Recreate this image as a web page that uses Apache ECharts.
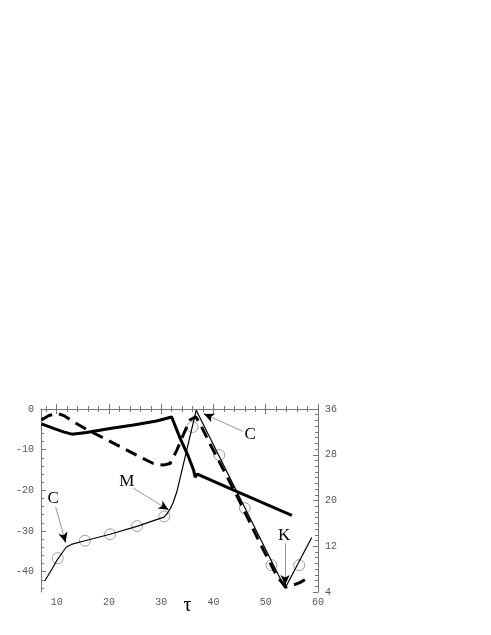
<!DOCTYPE html>
<html>
<head>
<meta charset="utf-8">
<script src="https://cdn.jsdelivr.net/npm/echarts@6/dist/echarts.min.js"></script>
<style>
  html, body { margin: 0; padding: 0; background: #fff; }
  #chart { width: 491px; height: 635px; }
</style>
</head>
<body>
<div id="chart"></div>
<script>
// tick labels
const xTicks = [10, 20, 30, 40, 50, 60]
const leftTicks = [-40, -30, -20, -10, 0]
const rightTicks = [4, 12, 20, 28, 36]

// thin curve (left axis)
const thinX = [7.7, 9.0, 10.2, 11.2, 11.8, 12.8, 15.4, 20.2, 25.5, 30.5, 31.1, 31.7, 32.3, 33.0, 36.7, 53.7, 58.8]
const thinY = [-42.3, -39.6, -36.9, -35.1, -34.0, -33.3, -32.4, -30.8, -28.8, -26.6, -25.8, -24.6, -23.0, -20.3, -0.3, -44.1, -31.6]

// open circles (left axis)
const circX = [10.2, 15.4, 20.2, 25.4, 30.6, 36.0, 41.1, 46.0, 51.1, 56.4]
const circY = [-36.7, -32.4, -30.8, -28.8, -26.4, -4.4, -11.3, -24.4, -38.4, -38.4]

// thick solid curve (right axis)
const thickX = [7.1, 9.4, 11.3, 12.9, 15.7, 20.2, 24.7, 29.1, 32.0, 33.6, 35.2, 36.2, 36.5, 36.9, 44.4, 55.0]
const thickY = [33.4, 32.6, 32.0, 31.6, 31.9, 32.6, 33.2, 33.9, 34.6, 30.9, 27.7, 25.3, 24.1, 24.6, 21.6, 17.4]

// thick dashed curve (right axis)
const dashX = [7.1, 8.5, 10.2, 11.5, 13.0, 16.0, 19.2, 25.5, 28.5, 30.4, 31.7, 33.0, 34.2, 35.5, 36.6, 37.5, 39.3, 44.4, 48.9, 52.1, 53.8, 55.0, 56.5, 58.2]
const dashY = [34.08, 34.86, 35.22, 34.79, 33.87, 32.3, 30.81, 27.82, 26.47, 26.19, 26.47, 28.82, 31.45, 34.08, 34.65, 33.3, 29.96, 21.0, 12.53, 6.84, 4.85, 5.07, 5.64, 6.49]

// annotations: label position and arrow [from, to] (left axis coords)
const notes = [
  { name: 'C', at: [9.35, -21.9], from: [9.8, -24.0], to: [11.7, -32.8] },
  { name: 'M', at: [23.4, -17.9], from: [24.7, -19.5], to: [31.4, -24.8] },
  { name: 'C', at: [47.0, -6.4], from: [45.6, -5.5], to: [38.2, -1.2] },
  { name: 'K', at: [53.5, -31.0], from: [53.7, -33.0], to: [53.7, -43.3] }
]

function minors (lo, hi, step, majors) {
  const out = []
  for (let v = lo; v <= hi + 1e-9; v += step) {
    const r = Math.round(v * 100) / 100
    if (majors.indexOf(r) < 0) out.push(r)
  }
  return out
}
const xMinor = minors(8, 58, 2, xTicks)
const leftMinor = minors(-44, -2, 2, leftTicks)
const rightMinor = minors(5, 35, 1, rightTicks)

const pairs = (xs, ys) => xs.map((x, i) => [x, ys[i]])

const frameColor = '#777'
const labelStyle = { color: '#555', fontFamily: 'Liberation Mono', fontSize: 10 }

function xAx (pos, ticks, len, withLine, withLabel) {
  return {
    type: 'value', position: pos, min: 7, max: 60,
    splitLine: { show: false },
    axisLine: { show: withLine, lineStyle: { color: frameColor, width: 1 } },
    axisTick: { show: true, inside: true, length: len, customValues: ticks, lineStyle: { color: frameColor } },
    axisLabel: withLabel
      ? Object.assign({ show: true, margin: 5, customValues: ticks }, labelStyle)
      : { show: false }
  }
}
function yAx (pos, min, max, ticks, len, withLine, withLabel) {
  return {
    type: 'value', position: pos, min: min, max: max,
    splitLine: { show: false },
    axisLine: { show: withLine, onZero: false, lineStyle: { color: frameColor, width: 1 } },
    axisTick: { show: true, inside: true, length: len, customValues: ticks, lineStyle: { color: frameColor } },
    axisLabel: withLabel
      ? Object.assign({ show: true, margin: 7, customValues: ticks }, labelStyle)
      : { show: false }
  }
}

const xAxes = [
  xAx('bottom', xTicks, 5, true, true),
  xAx('bottom', xMinor, 3, false, false),
  xAx('top', xTicks, 5, true, false),
  xAx('top', xMinor, 3, false, false)
]
xAxes[0].name = 'τ'
xAxes[0].nameLocation = 'middle'
xAxes[0].nameGap = 4
xAxes[0].nameMoveOverlap = false
xAxes[0].nameTextStyle = { fontFamily: 'Liberation Serif', fontSize: 20, color: '#000', padding: [0, 0, 0, 16] }

const yAxes = [
  yAx('left', -45, 0, leftTicks, 5, true, true),
  yAx('left', -45, 0, leftMinor, 3, false, false),
  yAx('right', 4, 36, rightTicks, 5, true, true),
  yAx('right', 4, 36, rightMinor, 3, false, false)
]

const arrowLines = []
notes.forEach(n => {
  arrowLines.push([
    { coord: n.from, symbol: 'none', lineStyle: { color: '#999', width: 1, type: 'solid' } },
    { coord: n.to, symbol: 'none' }
  ])
  const k = 0.82
  const near = [n.from[0] + (n.to[0] - n.from[0]) * k, n.from[1] + (n.to[1] - n.from[1]) * k]
  arrowLines.push([
    { coord: near, symbol: 'none', lineStyle: { color: '#000', width: 1, type: 'solid' } },
    { coord: n.to, symbol: 'arrow', symbolSize: [7, 10] }
  ])
})

const chart = echarts.init(document.getElementById('chart'), null, { renderer: 'canvas' })
chart.setOption({
  animation: false,
  backgroundColor: '#fff',
  grid: { left: 41, right: 173, top: 409, bottom: 43 },
  xAxis: xAxes,
  yAxis: yAxes,
  series: [
    {
      name: 'thin', type: 'line', xAxisIndex: 0, yAxisIndex: 0,
      data: pairs(thinX, thinY), showSymbol: false, symbol: 'none',
      lineStyle: { color: '#000', width: 1.2 }, z: 3,
      markLine: {
        silent: true, animation: false,
        symbol: ['none', 'none'],
        label: { show: false },
        data: arrowLines
      },
      markPoint: {
        silent: true, symbol: 'circle', symbolSize: 0,
        label: { show: true, position: 'inside', formatter: '{b}', color: '#000', fontFamily: 'Liberation Serif', fontSize: 17 },
        data: notes.map(n => ({ name: n.name, coord: n.at }))
      }
    },
    {
      name: 'circles', type: 'scatter', xAxisIndex: 0, yAxisIndex: 0,
      data: pairs(circX, circY), symbol: 'circle', symbolSize: 11,
      itemStyle: { color: 'rgba(255,255,255,0)', borderColor: '#888', borderWidth: 1 }, z: 2
    },
    {
      name: 'thick', type: 'line', xAxisIndex: 0, yAxisIndex: 2,
      data: pairs(thickX, thickY), showSymbol: false, symbol: 'none',
      lineStyle: { color: '#000', width: 3 }, z: 4
    },
    {
      name: 'dashed', type: 'line', xAxisIndex: 0, yAxisIndex: 2,
      data: pairs(dashX, dashY), showSymbol: false, symbol: 'none',
      lineStyle: { color: '#000', width: 3, type: [12, 7] }, z: 4
    }
  ]
})
</script>
</body>
</html>
